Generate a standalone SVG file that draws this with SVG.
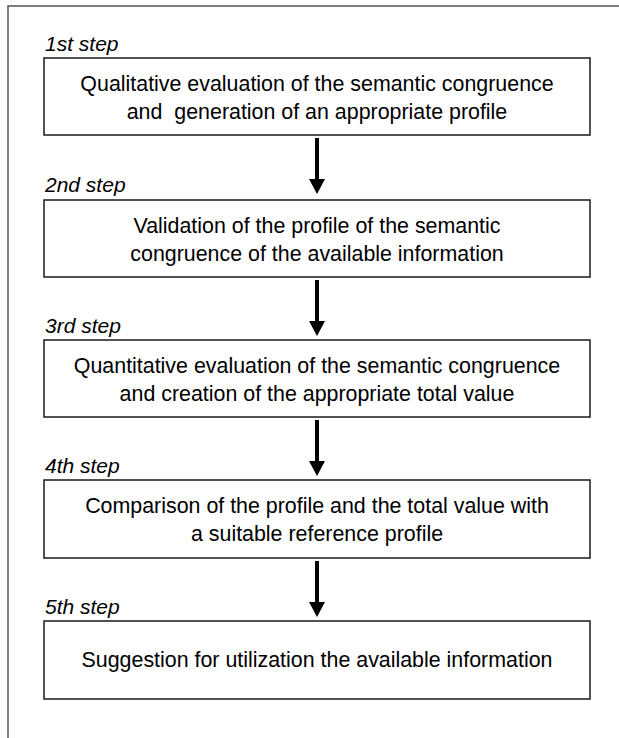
<svg xmlns="http://www.w3.org/2000/svg" width="619" height="738" viewBox="0 0 619 738">
<defs>
<style>
.box{fill:#fff;stroke:#1a1a1a;stroke-width:1.5}
.step{font-family:"Liberation Sans",Arial,sans-serif;font-style:italic;font-size:21px;fill:#000}
.txt{font-family:"Liberation Sans",Arial,sans-serif;font-size:21.4px;fill:#000;text-anchor:middle}
.frame{stroke:#555;stroke-width:1.5;fill:none}
.conn{stroke:#000;stroke-width:4}
</style>
</defs>
<rect width="619" height="738" fill="#fff"/>
<path class="frame" d="M8,738 L8,6 L619,6"/>
<g id="label1"><text class="step" x="45" y="51">1st step</text></g>
<g id="node1">
<rect class="box" x="44" y="58" width="546" height="77"/>
<text class="txt" x="317" y="91">Qualitative evaluation of the semantic congruence</text>
<text class="txt" x="317" y="119" xml:space="preserve">and  generation of an appropriate profile</text>
</g>
<g id="label2"><text class="step" x="45" y="192">2nd step</text></g>
<g id="node2">
<rect class="box" x="44" y="200" width="546" height="77"/>
<text class="txt" x="317" y="233">Validation of the profile of the semantic</text>
<text class="txt" x="317" y="261">congruence of the available information</text>
</g>
<g id="label3"><text class="step" x="45" y="333">3rd step</text></g>
<g id="node3">
<rect class="box" x="44" y="340" width="546" height="77"/>
<text class="txt" x="317" y="373">Quantitative evaluation of the semantic congruence</text>
<text class="txt" x="317" y="401">and creation of the appropriate total value</text>
</g>
<g id="label4"><text class="step" x="45" y="473">4th step</text></g>
<g id="node4">
<rect class="box" x="44" y="480" width="546" height="78"/>
<text class="txt" x="317" y="513">Comparison of the profile and the total value with</text>
<text class="txt" x="317" y="541">a suitable reference profile</text>
</g>
<g id="label5"><text class="step" x="45" y="614">5th step</text></g>
<g id="node5">
<rect class="box" x="44" y="621" width="546" height="78"/>
<text class="txt" x="317" y="667">Suggestion for utilization the available information</text>
</g>
<g id="connectors">
<path d="M317,138 V180" class="conn"/><path d="M309,179 L325,179 L317,194 Z"/>
<path d="M317,280 V322" class="conn"/><path d="M309,321 L325,321 L317,336 Z"/>
<path d="M317,420 V462" class="conn"/><path d="M309,461 L325,461 L317,476 Z"/>
<path d="M317,561 V603" class="conn"/><path d="M309,602 L325,602 L317,617 Z"/>
</g>
</svg>
